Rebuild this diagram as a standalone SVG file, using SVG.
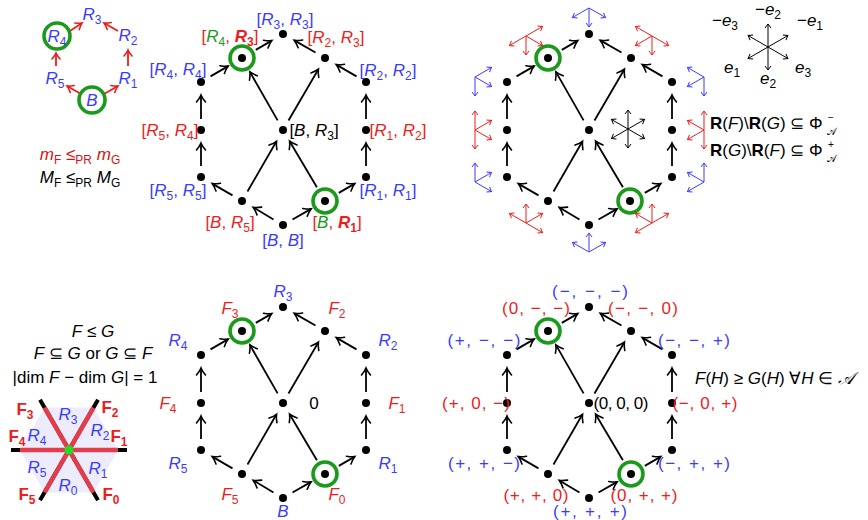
<svg xmlns="http://www.w3.org/2000/svg" width="868" height="520" viewBox="0 0 868 520">
<style>
text{font-family:"Liberation Sans",Arial,sans-serif;font-size:17px;fill:#000}
.i{font-style:italic}
.sb{font-size:12px;font-style:normal}
.ss{font-size:10px;font-style:normal}
.bf{font-weight:bold}
.b{fill:#3b3bff}
.r{fill:#ee1c1c}
.g{fill:#1a9a1a}
.dot{fill:#000}
.ring{fill:none;stroke:#1a9a1a;stroke-width:3.6}
.edge{stroke:#000;stroke-width:1.8;fill:none;marker-end:url(#ah)}
.redge{stroke:#ee1c1c;stroke-width:1.8;fill:none;marker-end:url(#ahr)}
.cb{stroke:#3b3bff;stroke-width:1;fill:none;marker-end:url(#sb)}
.cr{stroke:#ee1c1c;stroke-width:1;fill:none;marker-end:url(#sr)}
.ck{stroke:#000;stroke-width:1;fill:none;marker-end:url(#sk)}
</style>
<defs>
<marker id="ah" markerUnits="userSpaceOnUse" markerWidth="14" markerHeight="14" viewBox="-10 -7 14 14" refX="0" refY="0" orient="auto"><path d="M-7,-4.5 Q-3,-1.2 0,0 Q-3,1.2 -7,4.5" fill="none" stroke="#000" stroke-width="1.6" stroke-linecap="round"/></marker>
<marker id="ahr" markerUnits="userSpaceOnUse" markerWidth="14" markerHeight="14" viewBox="-10 -7 14 14" refX="0" refY="0" orient="auto"><path d="M-6,-4 Q-2.5,-1 0,0 Q-2.5,1 -6,4" fill="none" stroke="#ee1c1c" stroke-width="1.6" stroke-linecap="round"/></marker>
<marker id="sb" markerUnits="userSpaceOnUse" markerWidth="10" markerHeight="10" viewBox="-6 -5 10 10" refX="0" refY="0" orient="auto"><path d="M-4,-3 L0,0 L-4,3" fill="none" stroke="#3b3bff" stroke-width="1"/></marker>
<marker id="sr" markerUnits="userSpaceOnUse" markerWidth="10" markerHeight="10" viewBox="-6 -5 10 10" refX="0" refY="0" orient="auto"><path d="M-4,-3 L0,0 L-4,3" fill="none" stroke="#ee1c1c" stroke-width="1"/></marker>
<marker id="sk" markerUnits="userSpaceOnUse" markerWidth="10" markerHeight="10" viewBox="-6 -5 10 10" refX="0" refY="0" orient="auto"><path d="M-4,-3 L0,0 L-4,3" fill="none" stroke="#000" stroke-width="1"/></marker>
</defs>

<!-- ============ top-left small hexagon ============ -->
<g id="conn-tl">
<path class="redge" d="M81,94 L67,86"/>
<path class="redge" d="M104,94 L118,86"/>
<path class="redge" d="M56,66 L56,53"/>
<path class="redge" d="M128,66 L128,50"/>
<path class="redge" d="M70,31 L82,23"/>
<path class="redge" d="M118,31 L104,23"/>
</g>
<g id="tl-B"><circle class="ring" cx="92" cy="100" r="13"/><text x="92" y="106" text-anchor="middle" class="i b">B</text></g>
<g id="tl-R5"><text x="55" y="84" text-anchor="middle" class="b"><tspan class="i">R</tspan><tspan class="sb" dy="4">5</tspan></text></g>
<g id="tl-R1"><text x="128" y="84" text-anchor="middle" class="b"><tspan class="i">R</tspan><tspan class="sb" dy="4">1</tspan></text></g>
<g id="tl-R4"><circle class="ring" cx="57" cy="36" r="13"/><text x="57" y="42" text-anchor="middle" class="b"><tspan class="i">R</tspan><tspan class="sb" dy="4">4</tspan></text></g>
<g id="tl-R2"><text x="128" y="41" text-anchor="middle" class="b"><tspan class="i">R</tspan><tspan class="sb" dy="4">2</tspan></text></g>
<g id="tl-R3"><text x="92" y="20" text-anchor="middle" class="b"><tspan class="i">R</tspan><tspan class="sb" dy="4">3</tspan></text></g>
<text x="80" y="160" text-anchor="middle" style="fill:#d41414"><tspan class="i">m</tspan><tspan class="sb i" dy="4">F</tspan><tspan dy="-4">  ≤</tspan><tspan class="sb" dy="4">PR</tspan><tspan dy="-4">  </tspan><tspan class="i">m</tspan><tspan class="sb i" dy="4">G</tspan></text>
<text x="80" y="183" text-anchor="middle"><tspan class="i">M</tspan><tspan class="sb i" dy="4">F</tspan><tspan dy="-4">  ≤</tspan><tspan class="sb" dy="4">PR</tspan><tspan dy="-4">  </tspan><tspan class="i">M</tspan><tspan class="sb i" dy="4">G</tspan></text>

<!-- ============ graph A (top middle) ============ -->
<g id="conn-a">
<path class="edge" d="M210.5,76.4 L228.2,66.1"/>
<path class="edge" d="M255.8,49.9 L271.8,40.6"/>
<path class="edge" d="M315.5,52.5 L294.3,40.4"/>
<path class="edge" d="M356.5,76.4 L336.2,64.6"/>
<path class="edge" d="M366,119 L366,95"/>
<path class="edge" d="M366,166 L366,143"/>
<path class="edge" d="M338.8,192.9 L354.8,183.6"/>
<path class="edge" d="M292.5,219.5 L311.1,208.9"/>
<path class="edge" d="M273.5,219.5 L253.3,207.4"/>
<path class="edge" d="M232.5,195.4 L212.2,183.6"/>
<path class="edge" d="M201,166 L201,143"/>
<path class="edge" d="M201,119 L201,95"/>
<path class="edge" d="M247.5,191.5 L276.5,141.3"/>
<path class="edge" d="M277.6,120.4 L249.9,71.9"/>
<path class="edge" d="M316.9,187.2 L289.6,141.2"/>
<path class="edge" d="M288.5,120.5 L318.4,69.2"/>
</g>
<g id="a-T"><circle class="dot" cx="283" cy="34" r="4"/><text x="285" y="25" text-anchor="middle" class="b">[<tspan class="i">R</tspan><tspan class="sb" dy="4">3</tspan><tspan dy="-4">, </tspan><tspan class="i">R</tspan><tspan class="sb" dy="4">3</tspan><tspan dy="-4">]</tspan></text></g>
<g id="a-UL"><circle class="dot" cx="242" cy="58" r="4"/><circle class="ring" cx="242" cy="58" r="12"/><text x="230" y="42" text-anchor="middle" class="r">[<tspan class="i g">R</tspan><tspan class="sb g" dy="4">4</tspan><tspan dy="-4">, </tspan><tspan class="i bf">R</tspan><tspan class="sb bf" dy="4">3</tspan><tspan dy="-4">]</tspan></text></g>
<g id="a-L1"><circle class="dot" cx="201" cy="82" r="4"/><text x="178" y="75" text-anchor="middle" class="b">[<tspan class="i">R</tspan><tspan class="sb" dy="4">4</tspan><tspan dy="-4">, </tspan><tspan class="i">R</tspan><tspan class="sb" dy="4">4</tspan><tspan dy="-4">]</tspan></text></g>
<g id="a-L2"><circle class="dot" cx="201" cy="130" r="4"/><text x="170" y="136" text-anchor="middle" class="r">[<tspan class="i">R</tspan><tspan class="sb" dy="4">5</tspan><tspan dy="-4">, </tspan><tspan class="i">R</tspan><tspan class="sb" dy="4">4</tspan><tspan dy="-4">]</tspan></text></g>
<g id="a-L3"><circle class="dot" cx="201" cy="177" r="4"/><text x="178" y="196" text-anchor="middle" class="b">[<tspan class="i">R</tspan><tspan class="sb" dy="4">5</tspan><tspan dy="-4">, </tspan><tspan class="i">R</tspan><tspan class="sb" dy="4">5</tspan><tspan dy="-4">]</tspan></text></g>
<g id="a-LL"><circle class="dot" cx="242" cy="201" r="4"/><text x="230" y="228" text-anchor="middle" class="r">[<tspan class="i">B</tspan>, <tspan class="i">R</tspan><tspan class="sb" dy="4">5</tspan><tspan dy="-4">]</tspan></text></g>
<g id="a-Bt"><circle class="dot" cx="283" cy="225" r="4"/><text x="283" y="246" text-anchor="middle" class="b">[<tspan class="i">B</tspan>, <tspan class="i">B</tspan>]</text></g>
<g id="a-LR"><circle class="dot" cx="325" cy="201" r="4"/><circle class="ring" cx="325" cy="201" r="12"/><text x="337" y="228" text-anchor="middle" class="r">[<tspan class="i g">B</tspan>, <tspan class="i bf">R</tspan><tspan class="sb bf" dy="4">1</tspan><tspan dy="-4">]</tspan></text></g>
<g id="a-R3"><circle class="dot" cx="366" cy="177" r="4"/><text x="388" y="196" text-anchor="middle" class="b">[<tspan class="i">R</tspan><tspan class="sb" dy="4">1</tspan><tspan dy="-4">, </tspan><tspan class="i">R</tspan><tspan class="sb" dy="4">1</tspan><tspan dy="-4">]</tspan></text></g>
<g id="a-R2"><circle class="dot" cx="366" cy="130" r="4"/><text x="398" y="136" text-anchor="middle" class="r">[<tspan class="i">R</tspan><tspan class="sb" dy="4">1</tspan><tspan dy="-4">, </tspan><tspan class="i">R</tspan><tspan class="sb" dy="4">2</tspan><tspan dy="-4">]</tspan></text></g>
<g id="a-R1"><circle class="dot" cx="366" cy="82" r="4"/><text x="388" y="76" text-anchor="middle" class="b">[<tspan class="i">R</tspan><tspan class="sb" dy="4">2</tspan><tspan dy="-4">, </tspan><tspan class="i">R</tspan><tspan class="sb" dy="4">2</tspan><tspan dy="-4">]</tspan></text></g>
<g id="a-UR"><circle class="dot" cx="325" cy="58" r="4"/><text x="336" y="43" text-anchor="middle" class="r">[<tspan class="i">R</tspan><tspan class="sb" dy="4">2</tspan><tspan dy="-4">, </tspan><tspan class="i">R</tspan><tspan class="sb" dy="4">3</tspan><tspan dy="-4">]</tspan></text></g>
<g id="a-C"><circle class="dot" cx="283" cy="130" r="4"/><text x="314" y="136" text-anchor="middle">[<tspan class="i">B</tspan>, <tspan class="i">R</tspan><tspan class="sb" dy="4">3</tspan><tspan dy="-4">]</tspan></text></g>

<!-- ============ graph B (top right) ============ -->
<g id="conn-b" transform="translate(306,0)">
<path class="edge" d="M210.5,76.4 L228.2,66.1"/>
<path class="edge" d="M255.8,49.9 L271.8,40.6"/>
<path class="edge" d="M315.5,52.5 L294.3,40.4"/>
<path class="edge" d="M356.5,76.4 L336.2,64.6"/>
<path class="edge" d="M366,119 L366,95"/>
<path class="edge" d="M366,166 L366,143"/>
<path class="edge" d="M338.8,192.9 L354.8,183.6"/>
<path class="edge" d="M292.5,219.5 L311.1,208.9"/>
<path class="edge" d="M273.5,219.5 L253.3,207.4"/>
<path class="edge" d="M232.5,195.4 L212.2,183.6"/>
<path class="edge" d="M201,166 L201,143"/>
<path class="edge" d="M201,119 L201,95"/>
<path class="edge" d="M247.5,191.5 L276.5,141.3"/>
<path class="edge" d="M277.6,120.4 L249.9,71.9"/>
<path class="edge" d="M316.9,187.2 L289.6,141.2"/>
<path class="edge" d="M288.5,120.5 L318.4,69.2"/>
</g>
<g id="b-T"><circle class="dot" cx="589" cy="34" r="4"/>
<path class="cb" d="M589,8 L572.5,17.5"/><path class="cb" d="M589,8 L589,27"/><path class="cb" d="M589,8 L605.5,17.5"/></g>
<g id="b-UL"><circle class="dot" cx="548" cy="58" r="4"/><circle class="ring" cx="548" cy="58" r="12"/>
<path class="cr" d="M526,36 L509.5,45.5"/><path class="cr" d="M526,36 L542.5,26.5"/><path class="cr" d="M526,36 L526,55"/><path class="cr" d="M526,36 L542.5,45.5"/></g>
<g id="b-L1"><circle class="dot" cx="507" cy="82" r="4"/>
<path class="cb" d="M475,77 L491.5,67.5"/><path class="cb" d="M475,77 L475,96"/><path class="cb" d="M475,77 L491.5,86.5"/></g>
<g id="b-L2"><circle class="dot" cx="507" cy="130" r="4"/>
<path class="cr" d="M475,130 L491.5,120.5"/><path class="cr" d="M475,130 L475,149"/><path class="cr" d="M475,130 L475,111"/><path class="cr" d="M475,130 L491.5,139.5"/></g>
<g id="b-L3"><circle class="dot" cx="507" cy="177" r="4"/>
<path class="cb" d="M475,182 L491.5,172.5"/><path class="cb" d="M475,182 L475,163"/><path class="cb" d="M475,182 L491.5,191.5"/></g>
<g id="b-LL"><circle class="dot" cx="548" cy="201" r="4"/>
<path class="cr" d="M526,223 L542.5,213.5"/><path class="cr" d="M526,223 L526,204"/><path class="cr" d="M526,223 L542.5,232.5"/><path class="cr" d="M526,223 L509.5,213.5"/></g>
<g id="b-Bt"><circle class="dot" cx="589" cy="225" r="4"/>
<path class="cb" d="M589,252 L605.5,242.5"/><path class="cb" d="M589,252 L589,233"/><path class="cb" d="M589,252 L572.5,242.5"/></g>
<g id="b-LR"><circle class="dot" cx="630" cy="201" r="4"/><circle class="ring" cx="630" cy="201" r="12"/>
<path class="cr" d="M652,223 L635.5,232.5"/><path class="cr" d="M652,223 L668.5,213.5"/><path class="cr" d="M652,223 L652,204"/><path class="cr" d="M652,223 L635.5,213.5"/></g>
<g id="b-R3"><circle class="dot" cx="672" cy="177" r="4"/>
<path class="cb" d="M704,182 L687.5,191.5"/><path class="cb" d="M704,182 L704,163"/><path class="cb" d="M704,182 L687.5,172.5"/></g>
<g id="b-R2"><circle class="dot" cx="672" cy="130" r="4"/>
<path class="cr" d="M704,130 L687.5,139.5"/><path class="cr" d="M704,130 L704,149"/><path class="cr" d="M704,130 L704,111"/><path class="cr" d="M704,130 L687.5,120.5"/></g>
<g id="b-R1"><circle class="dot" cx="672" cy="82" r="4"/>
<path class="cb" d="M704,77 L687.5,86.5"/><path class="cb" d="M704,77 L704,96"/><path class="cb" d="M704,77 L687.5,67.5"/></g>
<g id="b-UR"><circle class="dot" cx="631" cy="58" r="4"/>
<path class="cr" d="M652,36 L635.5,45.5"/><path class="cr" d="M652,36 L652,55"/><path class="cr" d="M652,36 L668.5,45.5"/><path class="cr" d="M652,36 L635.5,26.5"/></g>
<g id="b-C"><circle class="dot" cx="589" cy="130" r="4"/>
<path class="ck" d="M628,129 L611.5,138.5"/><path class="ck" d="M628,129 L644.5,119.5"/><path class="ck" d="M628,129 L628,148"/><path class="ck" d="M628,129 L628,110"/><path class="ck" d="M628,129 L644.5,138.5"/><path class="ck" d="M628,129 L611.5,119.5"/></g>

<!-- legend star -->
<g id="legend-star">
<path class="ck" d="M768,47 L748.1,58.5"/><path class="ck" d="M768,47 L787.9,35.5"/><path class="ck" d="M768,47 L768,70"/><path class="ck" d="M768,47 L768,24"/><path class="ck" d="M768,47 L787.9,58.5"/><path class="ck" d="M768,47 L748.1,35.5"/>
<text x="768" y="15" text-anchor="middle">−<tspan class="i">e</tspan><tspan class="sb" dy="4">2</tspan></text>
<text x="725" y="26" text-anchor="middle">−<tspan class="i">e</tspan><tspan class="sb" dy="4">3</tspan></text>
<text x="810" y="26" text-anchor="middle">−<tspan class="i">e</tspan><tspan class="sb" dy="4">1</tspan></text>
<text x="732" y="73" text-anchor="middle"><tspan class="i">e</tspan><tspan class="sb" dy="4">1</tspan></text>
<text x="803" y="73" text-anchor="middle"><tspan class="i">e</tspan><tspan class="sb" dy="4">3</tspan></text>
<text x="768" y="84" text-anchor="middle"><tspan class="i">e</tspan><tspan class="sb" dy="4">2</tspan></text>
</g>
<g id="root-sets">
<text x="710" y="129"><tspan class="bf">R</tspan>(<tspan class="i">F</tspan>)\<tspan class="bf">R</tspan>(<tspan class="i">G</tspan>) ⊆ Φ</text>
<text x="828" y="121" class="ss">−</text>
<text x="827" y="135" class="ss i">𝒜</text>
<text x="710" y="156"><tspan class="bf">R</tspan>(<tspan class="i">G</tspan>)\<tspan class="bf">R</tspan>(<tspan class="i">F</tspan>) ⊆ Φ</text>
<text x="828" y="148" class="ss">+</text>
<text x="827" y="162" class="ss i">𝒜</text>
</g>

<!-- ============ bottom-left arrangement ============ -->
<g id="arrangement">
<polygon points="118,450 93.5,407.6 44.5,407.6 20,450 44.5,492.4 93.5,492.4" fill="#ececfc"/>
<g stroke="#000" stroke-width="4">
<line x1="11" y1="450" x2="127" y2="450"/>
<line x1="98" y1="399.8" x2="40" y2="500.2"/>
<line x1="40" y1="399.8" x2="98" y2="500.2"/>
</g>
<g stroke="#e33d4b" stroke-width="4.5">
<line x1="20" y1="450" x2="118" y2="450"/>
<line x1="93.5" y1="407.6" x2="44.5" y2="492.4"/>
<line x1="44.5" y1="407.6" x2="93.5" y2="492.4"/>
</g>
<circle cx="69" cy="450" r="4.5" fill="#22dd22"/>
<text x="25" y="415" text-anchor="middle" class="r bf">F<tspan class="sb bf" dy="4">3</tspan></text>
<text x="110" y="413" text-anchor="middle" class="r bf">F<tspan class="sb bf" dy="4">2</tspan></text>
<text x="17" y="442" text-anchor="middle" class="r bf">F<tspan class="sb bf" dy="4">4</tspan></text>
<text x="119" y="442" text-anchor="middle" class="r bf">F<tspan class="sb bf" dy="4">1</tspan></text>
<text x="27" y="500" text-anchor="middle" class="r bf">F<tspan class="sb bf" dy="4">5</tspan></text>
<text x="111" y="500" text-anchor="middle" class="r bf">F<tspan class="sb bf" dy="4">0</tspan></text>
<text x="68" y="420" text-anchor="middle" class="b"><tspan class="i">R</tspan><tspan class="sb" dy="4">3</tspan></text>
<text x="37" y="441" text-anchor="middle" class="b"><tspan class="i">R</tspan><tspan class="sb" dy="4">4</tspan></text>
<text x="100" y="436" text-anchor="middle" class="b"><tspan class="i">R</tspan><tspan class="sb" dy="4">2</tspan></text>
<text x="37" y="473" text-anchor="middle" class="b"><tspan class="i">R</tspan><tspan class="sb" dy="4">5</tspan></text>
<text x="98" y="474" text-anchor="middle" class="b"><tspan class="i">R</tspan><tspan class="sb" dy="4">1</tspan></text>
<text x="68" y="491" text-anchor="middle" class="b"><tspan class="i">R</tspan><tspan class="sb" dy="4">0</tspan></text>
</g>
<text x="93" y="337" text-anchor="middle"><tspan class="i">F</tspan>  ≤  <tspan class="i">G</tspan></text>
<text x="93" y="359" text-anchor="middle"><tspan class="i">F</tspan> ⊆ <tspan class="i">G</tspan> or <tspan class="i">G</tspan> ⊆ <tspan class="i">F</tspan></text>
<text x="85" y="383" text-anchor="middle">|dim <tspan class="i">F</tspan> − dim <tspan class="i">G</tspan>| = 1</text>

<!-- ============ graph C (bottom middle) ============ -->
<g id="conn-c" transform="translate(0,273)">
<path class="edge" d="M210.5,76.4 L228.2,66.1"/>
<path class="edge" d="M255.8,49.9 L271.8,40.6"/>
<path class="edge" d="M315.5,52.5 L294.3,40.4"/>
<path class="edge" d="M356.5,76.4 L336.2,64.6"/>
<path class="edge" d="M366,119 L366,95"/>
<path class="edge" d="M366,166 L366,143"/>
<path class="edge" d="M338.8,192.9 L354.8,183.6"/>
<path class="edge" d="M292.5,219.5 L311.1,208.9"/>
<path class="edge" d="M273.5,219.5 L253.3,207.4"/>
<path class="edge" d="M232.5,195.4 L212.2,183.6"/>
<path class="edge" d="M201,166 L201,143"/>
<path class="edge" d="M201,119 L201,95"/>
<path class="edge" d="M247.5,191.5 L276.5,141.3"/>
<path class="edge" d="M277.6,120.4 L249.9,71.9"/>
<path class="edge" d="M316.9,187.2 L289.6,141.2"/>
<path class="edge" d="M288.5,120.5 L318.4,69.2"/>
</g>
<g id="c-T"><circle class="dot" cx="283" cy="307" r="4"/><text x="283" y="297" text-anchor="middle" class="b"><tspan class="i">R</tspan><tspan class="sb" dy="4">3</tspan></text></g>
<g id="c-UL"><circle class="dot" cx="242" cy="331" r="4"/><circle class="ring" cx="242" cy="331" r="12"/><text x="230" y="314" text-anchor="middle" class="r"><tspan class="i">F</tspan><tspan class="sb" dy="4">3</tspan></text></g>
<g id="c-L1"><circle class="dot" cx="201" cy="355" r="4"/><text x="178" y="346" text-anchor="middle" class="b"><tspan class="i">R</tspan><tspan class="sb" dy="4">4</tspan></text></g>
<g id="c-L2"><circle class="dot" cx="201" cy="403" r="4"/><text x="168" y="409" text-anchor="middle" class="r"><tspan class="i">F</tspan><tspan class="sb" dy="4">4</tspan></text></g>
<g id="c-L3"><circle class="dot" cx="201" cy="450" r="4"/><text x="178" y="469" text-anchor="middle" class="b"><tspan class="i">R</tspan><tspan class="sb" dy="4">5</tspan></text></g>
<g id="c-LL"><circle class="dot" cx="242" cy="474" r="4"/><text x="230" y="500" text-anchor="middle" class="r"><tspan class="i">F</tspan><tspan class="sb" dy="4">5</tspan></text></g>
<g id="c-Bt"><circle class="dot" cx="283" cy="498" r="4"/><text x="283" y="517" text-anchor="middle" class="i b">B</text></g>
<g id="c-LR"><circle class="dot" cx="325" cy="474" r="4"/><circle class="ring" cx="325" cy="474" r="12"/><text x="337" y="500" text-anchor="middle" class="r"><tspan class="i">F</tspan><tspan class="sb" dy="4">0</tspan></text></g>
<g id="c-R3"><circle class="dot" cx="366" cy="450" r="4"/><text x="388" y="469" text-anchor="middle" class="b"><tspan class="i">R</tspan><tspan class="sb" dy="4">1</tspan></text></g>
<g id="c-R2"><circle class="dot" cx="366" cy="403" r="4"/><text x="397" y="409" text-anchor="middle" class="r"><tspan class="i">F</tspan><tspan class="sb" dy="4">1</tspan></text></g>
<g id="c-R1"><circle class="dot" cx="366" cy="355" r="4"/><text x="388" y="346" text-anchor="middle" class="b"><tspan class="i">R</tspan><tspan class="sb" dy="4">2</tspan></text></g>
<g id="c-UR"><circle class="dot" cx="325" cy="331" r="4"/><text x="337" y="314" text-anchor="middle" class="r"><tspan class="i">F</tspan><tspan class="sb" dy="4">2</tspan></text></g>
<g id="c-C"><circle class="dot" cx="283" cy="403" r="4"/><text x="314" y="409" text-anchor="middle">0</text></g>

<!-- ============ graph D (bottom right) ============ -->
<g id="conn-d" transform="translate(306,273)">
<path class="edge" d="M210.5,76.4 L228.2,66.1"/>
<path class="edge" d="M255.8,49.9 L271.8,40.6"/>
<path class="edge" d="M315.5,52.5 L294.3,40.4"/>
<path class="edge" d="M356.5,76.4 L336.2,64.6"/>
<path class="edge" d="M366,119 L366,95"/>
<path class="edge" d="M366,166 L366,143"/>
<path class="edge" d="M338.8,192.9 L354.8,183.6"/>
<path class="edge" d="M292.5,219.5 L311.1,208.9"/>
<path class="edge" d="M273.5,219.5 L253.3,207.4"/>
<path class="edge" d="M232.5,195.4 L212.2,183.6"/>
<path class="edge" d="M201,166 L201,143"/>
<path class="edge" d="M201,119 L201,95"/>
<path class="edge" d="M247.5,191.5 L276.5,141.3"/>
<path class="edge" d="M277.6,120.4 L249.9,71.9"/>
<path class="edge" d="M316.9,187.2 L289.6,141.2"/>
<path class="edge" d="M288.5,120.5 L318.4,69.2"/>
</g>
<g id="d-T"><circle class="dot" cx="589" cy="307" r="4"/><text x="590" y="297" text-anchor="middle" class="b" textLength="76" lengthAdjust="spacing">(−, −, −)</text></g>
<g id="d-UL"><circle class="dot" cx="548" cy="331" r="4"/><circle class="ring" cx="548" cy="331" r="12"/><text x="536" y="314" text-anchor="middle" class="r" textLength="68" lengthAdjust="spacing">(0, −, −)</text></g>
<g id="d-L1"><circle class="dot" cx="507" cy="355" r="4"/><text x="484" y="346" text-anchor="middle" class="b" textLength="73" lengthAdjust="spacing">(+, −, −)</text></g>
<g id="d-L2"><circle class="dot" cx="507" cy="403" r="4"/><text x="476" y="409" text-anchor="middle" class="r" textLength="68" lengthAdjust="spacing">(+, 0, −)</text></g>
<g id="d-L3"><circle class="dot" cx="507" cy="450" r="4"/><text x="484" y="469" text-anchor="middle" class="b" textLength="72" lengthAdjust="spacing">(+, +, −)</text></g>
<g id="d-LL"><circle class="dot" cx="548" cy="474" r="4"/><text x="536" y="501" text-anchor="middle" class="r" textLength="65" lengthAdjust="spacing">(+, +, 0)</text></g>
<g id="d-Bt"><circle class="dot" cx="589" cy="498" r="4"/><text x="590" y="517" text-anchor="middle" class="b" textLength="74" lengthAdjust="spacing">(+, +, +)</text></g>
<g id="d-LR"><circle class="dot" cx="631" cy="474" r="4"/><circle class="ring" cx="631" cy="474" r="12"/><text x="644" y="501" text-anchor="middle" class="r" textLength="67" lengthAdjust="spacing">(0, +, +)</text></g>
<g id="d-R3"><circle class="dot" cx="672" cy="450" r="4"/><text x="694" y="469" text-anchor="middle" class="b" textLength="72" lengthAdjust="spacing">(−, +, +)</text></g>
<g id="d-R2"><circle class="dot" cx="672" cy="403" r="4"/><text x="705" y="409" text-anchor="middle" class="r" textLength="65" lengthAdjust="spacing">(−, 0, +)</text></g>
<g id="d-R1"><circle class="dot" cx="672" cy="355" r="4"/><text x="694" y="346" text-anchor="middle" class="b" textLength="72" lengthAdjust="spacing">(−, −, +)</text></g>
<g id="d-UR"><circle class="dot" cx="631" cy="331" r="4"/><text x="643" y="314" text-anchor="middle" class="r" textLength="70" lengthAdjust="spacing">(−, −, 0)</text></g>
<g id="d-C"><circle class="dot" cx="589" cy="403" r="4"/><text x="621" y="409" text-anchor="middle" textLength="55" lengthAdjust="spacing">(0, 0, 0)</text></g>
<text x="695" y="384"><tspan class="i">F</tspan>(<tspan class="i">H</tspan>) ≥ <tspan class="i">G</tspan>(<tspan class="i">H</tspan>) ∀<tspan class="i">H</tspan> ∈ <tspan class="i">𝒜</tspan></text>
</svg>
